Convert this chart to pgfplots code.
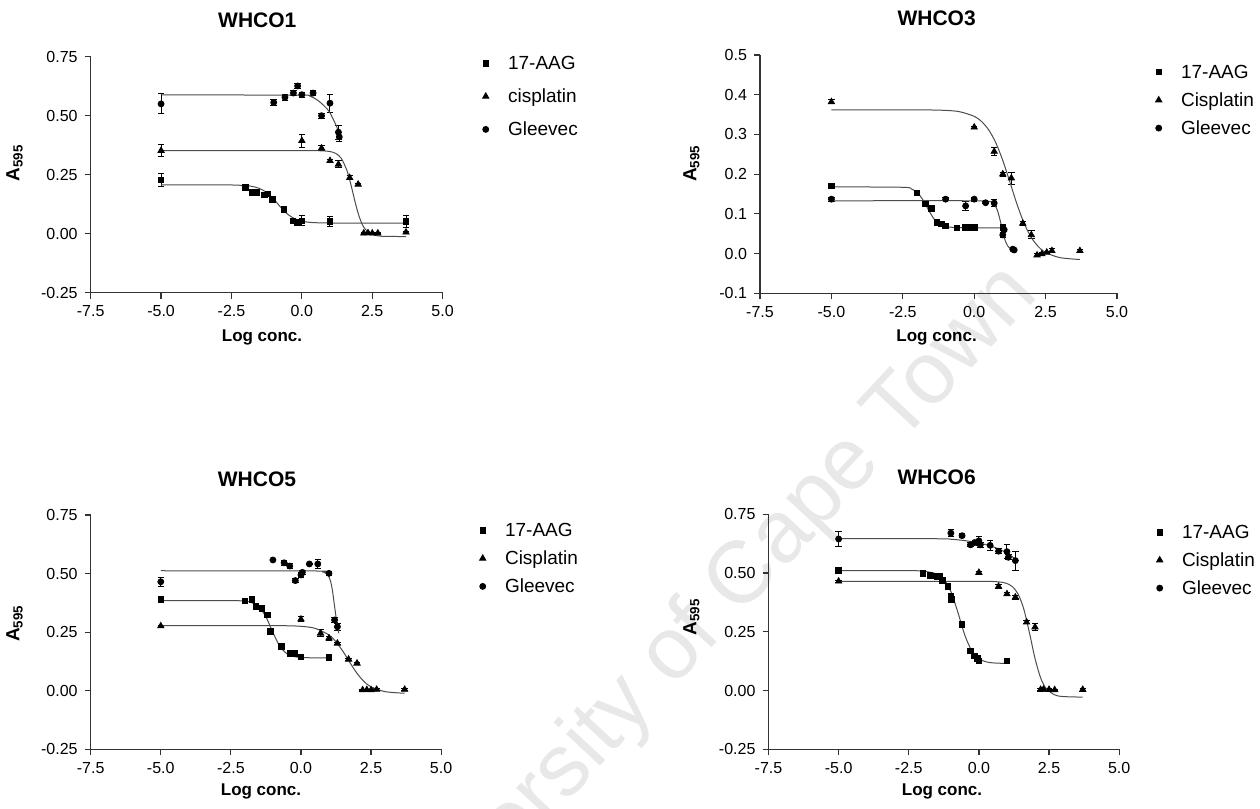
\documentclass[border=0pt]{standalone}
\usepackage{pgfplots}
\pgfplotsset{compat=1.18}
\usepackage{fontspec}
\setmainfont{Liberation Sans}
\pgfplotsset{
  myax/.style={
    scale only axis,
    axis lines*=left,
    axis line style={black!80, line width=0.6pt},
    tick style={black!80, line width=0.6pt},
    tick align=outside,
    major tick length=3pt,
    xmin=-7.5, xmax=5, xtick={-7.5,-5,-2.5,0,2.5,5},
    ymin=-0.25, ymax=0.75, ytick={-0.25,0,0.25,0.5,0.75},
    xticklabel style={/pgf/number format/.cd, fixed, fixed zerofill, precision=1, assume math mode=true},
    yticklabel style={/pgf/number format/.cd, fixed, fixed zerofill, precision=2, assume math mode=true},
    tick label style={font=\fontsize{8}{9.5}\selectfont},
    legend cell align=left,
    legend style={draw=none, fill=none, inner sep=0pt, anchor=north west,
      font=\fontsize{9.5}{11}\selectfont,
      nodes={inner sep=0pt, text height=7pt, text depth=1pt},
      column sep=9.6pt, row sep=8.5pt},
  },
  dat/.style={only marks, black, mark options={solid, fill=black},
    error bars/y dir=both, error bars/y explicit,
    error bars/error bar style={black, line width=0.5pt},
    error bars/error mark options={rotate=90, black, mark size=1.6pt, line width=0.5pt},
    legend image code/.code={\draw[##1] plot coordinates {(0pt,0pt)};}},
  aag/.style={dat, mark=square*, mark size=1.4pt},
  cis/.style={dat, mark=triangle*, mark size=1.8pt},
  glv/.style={dat, mark=*, mark size=1.5pt},
  fit/.style={no markers, smooth, black!70, line width=0.5pt, forget plot},
}
\begin{document}
\begin{tikzpicture}
\path[use as bounding box] (0pt,0pt) rectangle (630pt,404.5pt);
% watermark
\node[rotate=47, anchor=base east, text=black!9, font=\fontsize{44}{50}\selectfont] at (522.5pt,259.5pt) {University of Cape Town};

% ---------------- WHCO1 ----------------
\begin{axis}[myax, at={(45.35pt,258.15pt)}, anchor=south west, width=175.95pt, height=118pt,
  legend style={at={(rel axis cs:1.1126,1.0072)}}]
\addplot[aag] table[x=x,y=y,y error=e] {
x y e
-5 0.228 0.028
-2.0 0.197 0.006
-1.75 0.174 0.006
-1.6 0.176 0.006
-1.34 0.164 0.008
-1.21 0.168 0.008
-1.05 0.146 0.008
-0.64 0.103 0.008
-0.32 0.055 0.008
-0.15 0.047 0.008
0.0 0.055 0.02
1.0 0.051 0.02
3.7 0.051 0.025
};
\addlegendentry{17-AAG}
\addplot[cis] table[x=x,y=y,y error=e] {
x y e
-5 0.352 0.027
0 0.394 0.027
0.7 0.362 0.01
1.0 0.309 0.005
1.3 0.294 0.015
1.7 0.237 0.008
2.0 0.209 0.004
2.2 0.002 0.004
2.35 0.003 0.003
2.5 0.002 0.003
2.7 0.002 0.003
3.7 0.006 0.005
};
\addlegendentry{cisplatin}
\addplot[glv] table[x=x,y=y,y error=e] {
x y e
-5 0.55 0.042
-1.0 0.556 0.013
-0.6 0.578 0.012
-0.3 0.596 0.012
-0.15 0.626 0.01
0.0 0.589 0.01
0.4 0.596 0.01
0.7 0.50 0.01
1.0 0.553 0.038
1.3 0.43 0.03
1.33 0.41 0.02
};
\addlegendentry{Gleevec}
\addplot[fit] coordinates {(-5,0.207) (-3,0.207) (-2.5,0.2065) (-2,0.204) (-1.75,0.200) (-1.5,0.1915) (-1.25,0.1745) (-1,0.1465) (-0.75,0.1121) (-0.5,0.0822) (-0.25,0.0631) (0,0.0532) (0.25,0.0485) (0.5,0.0465) (1,0.0453) (2,0.045) (3.7,0.045)};
\addplot[fit] coordinates {(-5,0.352) (0,0.352) (0.5,0.3518) (0.8,0.3507) (1.0,0.3481) (1.2,0.3405) (1.4,0.3194) (1.6,0.2688) (1.7,0.2283) (1.8,0.180) (1.9,0.1304) (2.0,0.0863) (2.1,0.0519) (2.2,0.0277) (2.4,0.0022) (2.7,-0.0092) (3.0,-0.0115) (3.7,-0.012)};
\addplot[fit] coordinates {(-5,0.588) (0,0.587) (0.3,0.582) (0.53,0.568) (0.7,0.552) (0.88,0.531) (1.0,0.512) (1.12,0.484) (1.25,0.45) (1.36,0.41)};
\end{axis}

% ---------------- WHCO3 ----------------
\begin{axis}[myax, at={(380pt,257.85pt)}, anchor=south west, width=178.5pt, height=119.15pt,
  ymin=-0.1, ymax=0.5, ytick={-0.1,0,0.1,0.2,0.3,0.4,0.5},
  yticklabel style={/pgf/number format/.cd, fixed, fixed zerofill, precision=1, assume math mode=true},
  legend style={at={(rel axis cs:1.107,0.9635)}, row sep=6pt}]
\addplot[aag] table[x=x,y=y,y error=e] {
x y e
-5 0.170 0.005
-2.0 0.153 0.004
-1.7 0.125 0.005
-1.5 0.114 0.004
-1.3 0.078 0.004
-1.15 0.075 0.003
-1.0 0.070 0.003
-0.6 0.065 0.003
-0.3 0.066 0.003
-0.15 0.066 0.003
0.0 0.066 0.003
1.0 0.066 0.004
};
\addlegendentry{17-AAG}
\addplot[cis] table[x=x,y=y,y error=e] {
x y e
-5 0.382 0.005
0.0 0.318 0.003
0.7 0.257 0.01
1.0 0.200 0.005
1.3 0.190 0.015
1.7 0.076 0.005
2.0 0.047 0.01
2.2 -0.004 0.003
2.37 -0.001 0.003
2.54 0.003 0.003
2.72 0.007 0.005
3.7 0.007 0.003
};
\addlegendentry{Cisplatin}
\addplot[glv] table[x=x,y=y,y error=e] {
x y e
-5 0.137 0.005
-1.0 0.137 0.003
-0.3 0.12 0.012
0.0 0.137 0.005
0.4 0.128 0.003
0.7 0.127 0.008
1.0 0.047 0.006
1.05 0.06 0.004
1.35 0.011 0.003
1.4 0.009 0.002
};
\addlegendentry{Gleevec}
\addplot[fit] coordinates {(-5,0.362) (-2,0.3619) (-1,0.3605) (-0.5,0.357) (0,0.3456) (0.25,0.333) (0.5,0.3122) (0.75,0.2799) (1.0,0.2346) (1.25,0.1799) (1.5,0.1239) (1.75,0.0759) (2.0,0.0404) (2.25,0.0171) (2.5,0.0028) (3.0,-0.0102) (3.7,-0.0149)};
\addplot[fit] coordinates {(-5,0.168) (-2.5,0.1669) (-2.2,0.1627) (-2.0,0.154) (-1.8,0.1359) (-1.6,0.1097) (-1.4,0.0867) (-1.2,0.0737) (-1.0,0.0682) (-0.5,0.0652) (1.0,0.065)};
\addplot[fit] coordinates {(-5,0.133) (0,0.133) (0.4,0.1326) (0.6,0.1298) (0.7,0.1243) (0.8,0.1112) (0.9,0.0863) (1.0,0.0547) (1.1,0.0298) (1.2,0.0167) (1.3,0.0112) (1.45,0.0087)};
\end{axis}

% ---------------- WHCO5 ----------------
\begin{axis}[myax, at={(45.35pt,29.85pt)}, anchor=south west, width=175.2pt, height=117.15pt,
  legend style={at={(rel axis cs:1.1087,0.970)}, row sep=6pt}]
\addplot[aag] table[x=x,y=y,y error=e] {
x y e
-5 0.39 0.004
-2.0 0.384 0.004
-1.75 0.39 0.004
-1.6 0.359 0.005
-1.4 0.352 0.006
-1.2 0.323 0.008
-1.1 0.252 0.01
-0.7 0.188 0.006
-0.4 0.16 0.005
-0.23 0.16 0.005
0.0 0.145 0.006
1.0 0.143 0.004
};
\addlegendentry{17-AAG}
\addplot[cis] table[x=x,y=y,y error=e] {
x y e
-5 0.276 0.004
0.0 0.305 0.01
0.7 0.245 0.015
1.0 0.224 0.008
1.3 0.202 0.005
1.7 0.134 0.004
2.0 0.117 0.004
2.2 0.003 0.003
2.35 0.004 0.003
2.5 0.003 0.003
2.7 0.005 0.003
3.7 0.005 0.003
};
\addlegendentry{Cisplatin}
\addplot[glv] table[x=x,y=y,y error=e] {
x y e
-5 0.465 0.02
-1.0 0.558 0.004
-0.6 0.546 0.01
-0.4 0.532 0.01
-0.2 0.47 0.008
0.0 0.494 0.01
0.05 0.505 0.008
0.3 0.541 0.004
0.6 0.541 0.02
1.0 0.501 0.008
1.2 0.302 0.01
1.3 0.273 0.015
};
\addlegendentry{Gleevec}
\addplot[fit] coordinates {(-5,0.385) (-2.5,0.3847) (-2,0.382) (-1.75,0.3756) (-1.5,0.3576) (-1.25,0.3152) (-1.0,0.2485) (-0.75,0.1892) (-0.5,0.158) (-0.25,0.146) (0,0.1419) (0.5,0.1402) (1.0,0.14)};
\addplot[fit] coordinates {(-5,0.278) (-1,0.2778) (-0.5,0.2772) (0,0.2749) (0.5,0.2664) (1.0,0.238) (1.25,0.2087) (1.5,0.1676) (1.75,0.1194) (2.0,0.0742) (2.25,0.0394) (2.5,0.0167) (3.0,-0.0039) (3.7,-0.0108)};
\addplot[fit] coordinates {(-5,0.512) (0.5,0.511) (0.8,0.506) (0.95,0.496) (1.05,0.47) (1.12,0.43) (1.2,0.36) (1.28,0.29) (1.35,0.245)};
\end{axis}

% ---------------- WHCO6 ----------------
\begin{axis}[myax, at={(384.25pt,29.85pt)}, anchor=south west, width=175.35pt, height=117.5pt,
  legend style={at={(rel axis cs:1.1055,0.96)}, row sep=6pt}]
\addplot[aag] table[x=x,y=y,y error=e] {
x y e
-5 0.512 0.004
-2.0 0.499 0.006
-1.75 0.49 0.004
-1.62 0.488 0.004
-1.5 0.487 0.004
-1.4 0.485 0.004
-1.3 0.469 0.006
-1.1 0.443 0.006
-1.0 0.40 0.008
-0.98 0.387 0.006
-0.6 0.281 0.006
-0.3 0.168 0.005
-0.17 0.147 0.005
-0.05 0.136 0.005
0.0 0.126 0.004
1.0 0.126 0.005
};
\addlegendentry{17-AAG}
\addplot[cis] table[x=x,y=y,y error=e] {
x y e
-5 0.465 0.004
0.0 0.502 0.004
0.7 0.443 0.01
1.0 0.411 0.008
1.3 0.397 0.008
1.7 0.291 0.006
2.0 0.270 0.015
2.2 0.004 0.003
2.3 0.005 0.003
2.5 0.004 0.003
2.7 0.003 0.003
3.7 0.004 0.003
};
\addlegendentry{Cisplatin}
\addplot[glv] table[x=x,y=y,y error=e] {
x y e
-5 0.645 0.032
-1.0 0.670 0.015
-0.6 0.659 0.008
-0.3 0.620 0.008
-0.15 0.630 0.008
0.0 0.637 0.02
0.05 0.620 0.01
0.4 0.618 0.02
0.7 0.593 0.01
1.0 0.591 0.03
1.05 0.567 0.01
1.3 0.553 0.04
};
\addlegendentry{Gleevec}
\addplot[fit] coordinates {(-5,0.51) (-2.5,0.51) (-2,0.5082) (-1.5,0.4962) (-1.25,0.4733) (-1.0,0.4216) (-0.75,0.3329) (-0.5,0.235) (-0.25,0.168) (0,0.1356) (0.25,0.1225) (0.5,0.1177) (1.0,0.1152)};
\addplot[fit] coordinates {(-5,0.465) (0,0.4649) (0.5,0.464) (0.8,0.4611) (1.0,0.4553) (1.2,0.4415) (1.4,0.4099) (1.6,0.3466) (1.8,0.2467) (2.0,0.1366) (2.2,0.054) (2.4,0.0083) (2.7,-0.0183) (3.0,-0.0255) (3.7,-0.028)};
\addplot[fit] coordinates {(-5,0.647) (-1.5,0.646) (-1,0.644) (-0.5,0.638) (0,0.628) (0.4,0.616) (0.7,0.603) (1.0,0.585) (1.3,0.56)};
\end{axis}

% titles and axis labels
\begin{scope}[every node/.style={font=\fontsize{10.5}{12}\selectfont\bfseries}]
\node at (128.65pt,394.25pt) {WHCO1};
\node at (468.3pt,395.5pt) {WHCO3};
\node at (128.5pt,164.9pt) {WHCO5};
\node at (468.3pt,165.75pt) {WHCO6};
\end{scope}
\begin{scope}[every node/.style={font=\fontsize{8.5}{10}\selectfont\bfseries, anchor=base}]
\node at (131pt,233.5pt) {Log conc.};
\node at (468.3pt,233.5pt) {Log conc.};
\node at (130.5pt,6.5pt) {Log conc.};
\node at (471pt,6.5pt) {Log conc.};
\end{scope}
\begin{scope}[every node/.style={font=\fontsize{9.5}{11}\selectfont\bfseries, rotate=90}]
\node at (7.25pt,323pt) {A\textsubscript{595}};
\node at (345.7pt,322.85pt) {A\textsubscript{595}};
\node at (7.25pt,92.85pt) {A\textsubscript{595}};
\node at (345.7pt,96.15pt) {A\textsubscript{595}};
\end{scope}
\end{tikzpicture}
\end{document}
